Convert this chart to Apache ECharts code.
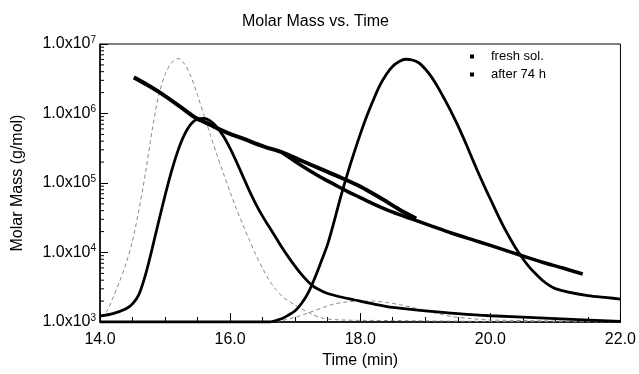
<!DOCTYPE html>
<html>
<head>
<meta charset="utf-8">
<script src="https://cdn.jsdelivr.net/npm/echarts@6/dist/echarts.min.js"></script>
<style>
  html, body { margin: 0; padding: 0; background: #fff; }
  #chart { width: 639px; height: 374px; }
</style>
</head>
<body>
<div id="chart"></div>
<script>
// molar mass traces, time in min, mass in g/mol
const freshMmTime = [14.52, 14.73, 14.94, 15.20, 15.45, 15.71, 15.96, 16.22, 16.5, 16.8, 17.1, 17.4, 17.7, 18.0, 18.3, 18.6, 18.86];
const freshMmMass = [3.31e6, 2.57e6, 1.95e6, 1.32e6, 8.91e5, 6.76e5, 5.25e5, 4.27e5, 3.39e5, 2.75e5, 2.09e5, 1.58e5, 1.20e5, 8.91e4, 6.17e4, 4.17e4, 3.09e4];
const agedMmTime = [16.81, 17.0, 17.2, 17.4, 17.6, 17.8, 18.0, 18.2, 18.5, 18.8, 19.1, 19.4, 19.8, 20.2, 20.5, 20.8, 21.1, 21.42];
const agedMmMass = [2.69e5, 2.04e5, 1.55e5, 1.20e5, 9.55e4, 7.59e4, 6.17e4, 5.01e4, 3.80e4, 3.02e4, 2.40e4, 1.91e4, 1.45e4, 1.10e4, 8.91e3, 7.24e3, 6.03e3, 4.90e3];

// detector peaks (solid), drawn on the same log scale
const freshPeakTime = [14.0, 14.2, 14.4, 14.5, 14.6, 14.7, 14.8, 14.9, 15.0, 15.1, 15.2, 15.3, 15.4, 15.5, 15.6, 15.7, 15.8, 15.9, 16.0, 16.1, 16.2, 16.3, 16.4, 16.5, 16.6, 16.7, 16.8, 16.9, 17.0, 17.1, 17.2, 17.3, 17.4, 17.5, 17.7, 17.9, 18.2, 18.5, 19.0, 19.5, 20.0, 21.0, 22.0];
const freshPeakVal = [1.22e3, 1.32e3, 1.55e3, 1.82e3, 2.51e3, 4.79e3, 1.12e4, 2.75e4, 6.61e4, 1.48e5, 2.95e5, 5.01e5, 7.08e5, 8.32e5, 8.51e5, 7.76e5, 6.31e5, 4.68e5, 3.16e5, 2.0e5, 1.23e5, 7.59e4, 4.90e4, 3.31e4, 2.34e4, 1.66e4, 1.17e4, 8.51e3, 6.31e3, 4.79e3, 3.80e3, 3.16e3, 2.82e3, 2.57e3, 2.29e3, 2.09e3, 1.82e3, 1.62e3, 1.45e3, 1.32e3, 1.23e3, 1.12e3, 1.02e3];
const agedPeakTime = [14.0, 15.0, 16.0, 16.6, 16.7, 16.8, 16.9, 17.0, 17.1, 17.2, 17.3, 17.4, 17.5, 17.6, 17.7, 17.8, 17.9, 18.0, 18.1, 18.2, 18.3, 18.4, 18.5, 18.6, 18.7, 18.8, 18.9, 19.0, 19.1, 19.2, 19.3, 19.4, 19.5, 19.6, 19.7, 19.8, 19.9, 20.0, 20.1, 20.2, 20.3, 20.4, 20.5, 20.6, 20.7, 20.8, 20.9, 21.0, 21.2, 21.5, 21.8, 22.0];
const agedPeakVal = [1.0e3, 1.0e3, 1.0e3, 1.0e3, 1.05e3, 1.12e3, 1.26e3, 1.45e3, 1.86e3, 2.63e3, 4.27e3, 7.41e3, 1.32e4, 2.82e4, 6.31e4, 1.32e5, 2.63e5, 5.01e5, 9.12e5, 1.55e6, 2.51e6, 3.63e6, 4.79e6, 5.62e6, 6.03e6, 5.89e6, 5.37e6, 4.37e6, 3.31e6, 2.34e6, 1.58e6, 1.05e6, 6.76e5, 4.17e5, 2.51e5, 1.51e5, 9.33e4, 5.89e4, 3.72e4, 2.40e4, 1.62e4, 1.12e4, 8.13e3, 6.17e3, 4.90e3, 3.98e3, 3.39e3, 3.02e3, 2.69e3, 2.40e3, 2.24e3, 2.14e3];

// grey dashed signals
const freshDashTime = [14.0, 14.1, 14.2, 14.3, 14.4, 14.5, 14.6, 14.7, 14.8, 14.9, 15.0, 15.1, 15.2, 15.3, 15.4, 15.5, 15.6, 15.7, 15.8, 15.9, 16.0, 16.1, 16.2, 16.3, 16.4, 16.5, 16.6, 16.7, 16.8, 16.9, 17.0, 17.2, 17.4, 17.7, 18.5, 20.0, 22.0];
const freshDashVal = [1.20e3, 1.41e3, 2.24e3, 3.80e3, 6.92e3, 1.48e4, 4.17e4, 1.41e5, 5.62e5, 1.78e6, 3.63e6, 5.37e6, 6.17e6, 5.13e6, 3.39e6, 1.82e6, 9.33e5, 4.79e5, 2.51e5, 1.35e5, 7.41e4, 4.17e4, 2.45e4, 1.48e4, 9.12e3, 5.89e3, 3.98e3, 2.95e3, 2.34e3, 2.0e3, 1.74e3, 1.38e3, 1.15e3, 1.07e3, 1.05e3, 1.02e3, 1.0e3];
const agedDashTime = [16.6, 16.8, 17.0, 17.2, 17.4, 17.6, 17.8, 18.0, 18.2, 18.4, 18.6, 18.8, 19.0, 19.2, 19.4, 19.7, 20.0, 20.5, 22.0];
const agedDashVal = [1.0e3, 1.05e3, 1.17e3, 1.35e3, 1.58e3, 1.82e3, 1.95e3, 2.0e3, 2.0e3, 1.91e3, 1.78e3, 1.62e3, 1.45e3, 1.32e3, 1.20e3, 1.12e3, 1.07e3, 1.05e3, 1.0e3];

// log minor ticks on the left axis
const minorMult = [2, 3, 4, 5, 6, 7, 8, 9];
const decades = [1e3, 1e4, 1e5, 1e6];

function pairs(xs, ys) {
  return xs.map(function (x, i) { return [x, ys[i]]; });
}

const minorTicks = [];
decades.forEach(function (d) {
  minorMult.forEach(function (m) { minorTicks.push([14, d * m]); });
});

const font = 'Liberation Sans, Arial, sans-serif';

const chart = echarts.init(document.getElementById('chart'));

function curve(name, data, lineStyle) {
  return {
    name: name,
    type: 'line',
    data: data,
    smooth: 0.3,
    showSymbol: false,
    color: '#000',
    lineStyle: lineStyle
  };
}

chart.setOption({
  animation: false,
  backgroundColor: '#fff',
  title: {
    text: 'Molar Mass vs. Time',
    left: 237,
    top: 9,
    textStyle: { fontFamily: font, fontSize: 16, fontWeight: 'normal', color: '#000' }
  },
  legend: {
    data: ['fresh sol.', 'after 74 h'],
    orient: 'vertical',
    left: 465,
    top: 45,
    icon: 'rect',
    itemWidth: 4,
    itemHeight: 4,
    itemGap: 5,
    textStyle: { fontFamily: font, fontSize: 13, color: '#000', padding: [0, 0, 0, 12] }
  },
  grid: {
    left: 100,
    right: 17,
    top: 44,
    bottom: 52,
    show: true,
    borderColor: '#000',
    borderWidth: 1
  },
  xAxis: {
    type: 'value',
    min: 14,
    max: 22,
    interval: 2,
    name: 'Time (min)',
    nameLocation: 'middle',
    nameGap: 30,
    nameTextStyle: { fontFamily: font, fontSize: 16, color: '#000' },
    axisLine: { lineStyle: { color: '#000', width: 1.5 } },
    axisTick: { inside: true, length: 9, lineStyle: { color: '#000' } },
    minorTick: { show: true, splitNumber: 4, length: 5, lineStyle: { color: '#000' } },
    splitLine: { show: false },
    axisLabel: {
      margin: 10,
      fontFamily: font,
      fontSize: 16,
      color: '#000',
      formatter: function (v) { return v.toFixed(1); }
    }
  },
  yAxis: {
    type: 'log',
    logBase: 10,
    min: 1e3,
    max: 1e7,
    name: 'Molar Mass (g/mol)',
    nameLocation: 'middle',
    nameGap: 74,
    nameTextStyle: { fontFamily: font, fontSize: 16, color: '#000' },
    axisLine: { lineStyle: { color: '#000', width: 1.5 } },
    axisTick: { inside: true, length: 8, lineStyle: { color: '#000' } },
    splitLine: { show: false },
    axisLabel: {
      margin: 4,
      fontFamily: font,
      fontSize: 16,
      color: '#000',
      formatter: function (v) {
        return '1.0x10{s|' + Math.round(Math.log10(v)) + '}';
      },
      rich: {
        s: { fontFamily: font, fontSize: 10, color: '#000', verticalAlign: 'top', padding: [0, 0, 8, 0] }
      }
    }
  },
  series: [
    curve('freshDash', pairs(freshDashTime, freshDashVal), { color: '#8a8a8a', width: 1, type: [4, 3] }),
    curve('agedDash', pairs(agedDashTime, agedDashVal), { color: '#8a8a8a', width: 1, type: [4, 3] }),
    curve('freshPeak', pairs(freshPeakTime, freshPeakVal), { color: '#000', width: 2.8 }),
    curve('agedPeak', pairs(agedPeakTime, agedPeakVal), { color: '#000', width: 2.8 }),
    curve('fresh sol.', pairs(freshMmTime, freshMmMass), { color: '#000', width: 4 }),
    curve('after 74 h', pairs(agedMmTime, agedMmMass), { color: '#000', width: 3.5 }),
    {
      name: 'minorTicks',
      type: 'custom',
      silent: true,
      data: minorTicks,
      renderItem: function (params, api) {
        const p = api.coord([api.value(0), api.value(1)]);
        return {
          type: 'line',
          shape: { x1: p[0], y1: p[1], x2: p[0] + 4, y2: p[1] },
          style: { stroke: '#000', lineWidth: 1 }
        };
      }
    }
  ]
});
</script>
</body>
</html>
